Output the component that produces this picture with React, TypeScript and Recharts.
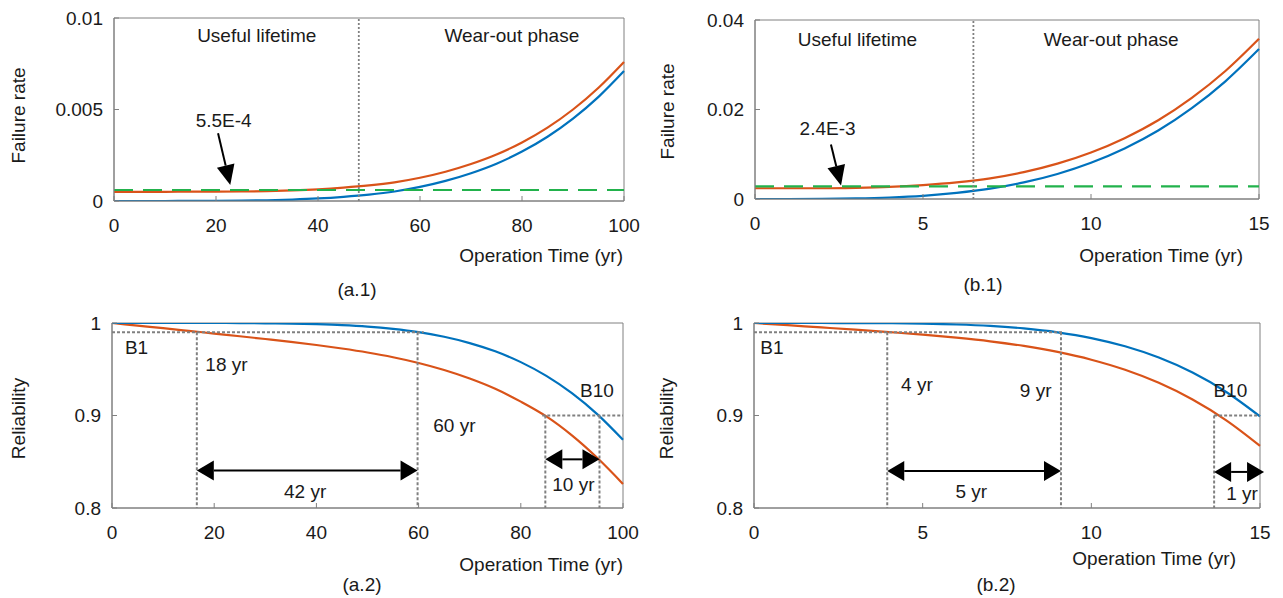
import { LineChart, Line, XAxis, YAxis, ReferenceLine, ReferenceDot, ReferenceArea } from 'recharts';

const FONT = '"Liberation Sans", Arial, Helvetica, sans-serif';
const INK = '#1a1a1a';
const FRAME = '#808080';
const BLUE = '#0072BD';
const ORANGE = '#D95319';
const GREEN = '#22B24C';
const FS = 19;

// case (a): 0-100 yr
const yearsA = [0, 5, 10, 15, 20, 25, 30, 35, 40, 45, 50, 55, 60, 65, 70, 75, 80, 85, 90, 95, 100];
const rateBlueA = [0, 0, 0, 0.00001, 0.00001, 0.00002, 0.00004, 0.00008, 0.00014, 0.00023, 0.00035, 0.00052, 0.00077, 0.0011, 0.00152, 0.00204, 0.0027, 0.00351, 0.0045, 0.00569, 0.0071];
const rateOrangeA = [0.0005, 0.0005, 0.0005, 0.00051, 0.00051, 0.00052, 0.00054, 0.00058, 0.00064, 0.00073, 0.00085, 0.00102, 0.00127, 0.0016, 0.00202, 0.00254, 0.0032, 0.00401, 0.005, 0.00619, 0.0076];
const relBlueA = [1, 1, 1, 1, 1, 0.9999, 0.9997, 0.9994, 0.9987, 0.9977, 0.9961, 0.9936, 0.9901, 0.9851, 0.9783, 0.9694, 0.9577, 0.9428, 0.9241, 0.9012, 0.8737];
const relOrangeA = [1, 0.9972, 0.9944, 0.9915, 0.9886, 0.9857, 0.9827, 0.9796, 0.9762, 0.9724, 0.9681, 0.963, 0.9568, 0.9492, 0.94, 0.9289, 0.915, 0.899, 0.8785, 0.854, 0.826];
const constRateA = 0.0006;
const phaseSplitA = 48;
const b1LifeA = [16.6, 59.8];
const b10LifeA = [84.8, 95.4];

// case (b): 0-15 yr
const yearsB = [0, 1, 2, 3, 4, 5, 6, 7, 8, 9, 10, 11, 12, 13, 14, 15];
const rateBlueB = [0, 0, 0.00003, 0.00012, 0.00033, 0.00071, 0.00136, 0.0023, 0.0037, 0.0056, 0.0081, 0.0113, 0.0153, 0.0203, 0.0263, 0.0335];
const rateOrangeB = [0.0024, 0.0024, 0.0024, 0.0025, 0.0027, 0.0031, 0.0037, 0.0046, 0.006, 0.0079, 0.0104, 0.0136, 0.0176, 0.0226, 0.0286, 0.0358];
const relBlueB = [1, 1, 1, 0.9999, 0.9998, 0.9993, 0.9984, 0.9968, 0.9941, 0.9899, 0.9837, 0.9748, 0.9626, 0.9464, 0.9254, 0.899];
const relOrangeB = [1, 0.9976, 0.9952, 0.9928, 0.9902, 0.9874, 0.9841, 0.9802, 0.9752, 0.9687, 0.9603, 0.9494, 0.9353, 0.9173, 0.8948, 0.8672];
const constRateB = 0.0028;
const phaseSplitB = 6.5;
const b1LifeB = [3.95, 9.1];
const b10LifeB = [13.64, 15];

const B1 = 0.99;
const B10 = 0.9;

const rateA = yearsA.map((t, i) => ({ t, blue: rateBlueA[i], orange: rateOrangeA[i] }));
const relA = yearsA.map((t, i) => ({ t, blue: relBlueA[i], orange: relOrangeA[i] }));
const rateB = yearsB.map((t, i) => ({ t, blue: rateBlueB[i], orange: rateOrangeB[i] }));
const relB = yearsB.map((t, i) => ({ t, blue: relBlueB[i], orange: relOrangeB[i] }));

// arrow drawn between the segment end points, head(s) in pixels
function arrow(both: boolean) {
  return (p: any) => {
    const { x1, y1, x2, y2 } = p;
    const len = Math.hypot(x2 - x1, y2 - y1) || 1;
    const ux = (x2 - x1) / len;
    const uy = (y2 - y1) / len;
    const hl = both ? 17 : 20;
    const hw = both ? 10 : 9;
    const head = (tx: number, ty: number, dx: number, dy: number) => {
      const bx = tx - dx * hl;
      const by = ty - dy * hl;
      return `${tx},${ty} ${bx - dy * hw},${by + dx * hw} ${bx + dy * hw},${by - dx * hw}`;
    };
    const sx = both ? x1 + ux * hl : x1;
    const sy = both ? y1 + uy * hl : y1;
    return (
      <g>
        <line x1={sx} y1={sy} x2={x2 - ux * hl} y2={y2 - uy * hl} stroke="#000" strokeWidth={2} />
        <polygon points={head(x2, y2, ux, uy)} fill="#000" />
        {both && <polygon points={head(x1, y1, -ux, -uy)} fill="#000" />}
      </g>
    );
  };
}

const guide = (key: string, x1: number, y1: number, x2: number, y2: number) => (
  <ReferenceLine key={key} segment={[{ x: x1, y: y1 }, { x: x2, y: y2 }]} stroke={FRAME}
    strokeDasharray="3 2" strokeWidth={2} ifOverflow="visible" />
);

const note = (key: string, x: number, y: number, text: string) => (
  <ReferenceDot key={key} x={x} y={y} r={0} fill="none" stroke="none" ifOverflow="visible"
    label={{ value: text, position: 'center', fontSize: FS, fill: INK }} />
);

const pointer = (key: string, x1: number, y1: number, x2: number, y2: number, both: boolean) => (
  <ReferenceLine key={key} segment={[{ x: x1, y: y1 }, { x: x2, y: y2 }]} ifOverflow="visible" shape={arrow(both)} />
);

const relTick = (p: any) => (
  <text x={p.x} y={p.y} dy={p.payload.value === 0.99 ? 16 : 0} textAnchor="end" dominantBaseline="central"
    fontSize={FS} fill={INK}>
    {p.payload.value}
  </text>
);

interface PanelProps {
  left: number; top: number; width: number; height: number;
  plot: [number, number, number, number]; // l, t, r, b
  data: Record<string, number>[];
  xDomain: [number, number]; xTicks: number[];
  yDomain: [number, number]; yTicks: number[];
  yTick?: any;
  yTitle: string; yGap: number; yShift: number;
  xTitleDx: number; xTitleDy: number;
  caption: string; capDx: number; capDy: number;
  children?: any;
}

function Panel(p: PanelProps) {
  const [l, t, r, b] = p.plot;
  return (
    <div style={{ position: 'absolute', left: p.left, top: p.top }}>
      <LineChart width={p.width} height={p.height} data={p.data}
        margin={{ top: t, right: p.width - r, left: 0, bottom: 0 }}>
        <XAxis type="number" dataKey="t" domain={p.xDomain} ticks={p.xTicks} height={p.height - b}
          tickSize={-5} tickMargin={23} axisLine={{ stroke: FRAME }} tickLine={{ stroke: FRAME }}
          tick={{ fontSize: FS, fill: INK }}
          label={{
            content: (lp: any) => {
              const vb = lp.viewBox;
              return (
                <g fontSize={FS} fill={INK}>
                  <text x={vb.x + vb.width + p.xTitleDx} y={vb.y + p.xTitleDy} textAnchor="end">Operation Time (yr)</text>
                  <text x={vb.x + p.capDx} y={vb.y + p.capDy} textAnchor="middle">{p.caption}</text>
                </g>
              );
            },
          }} />
        <XAxis xAxisId="top" orientation="top" type="number" dataKey="t" domain={p.xDomain} ticks={p.xTicks}
          height={0} tick={false} tickSize={-5} axisLine={{ stroke: FRAME }} tickLine={{ stroke: FRAME }} />
        <YAxis type="number" domain={p.yDomain} ticks={p.yTicks} width={l} allowDataOverflow
          tickSize={-5} tickMargin={16} axisLine={{ stroke: FRAME }} tickLine={{ stroke: FRAME }}
          tick={p.yTick ?? { fontSize: FS, fill: INK }}
          label={{
            content: (lp: any) => {
              const vb = lp.viewBox;
              const cx = vb.x + vb.width - p.yGap;
              const cy = vb.y + vb.height / 2 + p.yShift;
              return (
                <text x={cx} y={cy} transform={`rotate(-90 ${cx} ${cy})`} textAnchor="middle"
                  dominantBaseline="central" fontSize={FS} fill={INK}>{p.yTitle}</text>
              );
            },
          }} />
        <YAxis yAxisId="right" orientation="right" type="number" domain={p.yDomain} ticks={p.yTicks}
          width={0} allowDataOverflow tick={false} tickSize={-5} axisLine={{ stroke: FRAME }} tickLine={{ stroke: FRAME }} />
        <ReferenceArea x1={p.xDomain[0]} x2={p.xDomain[1]} y1={p.yDomain[0]} y2={p.yDomain[1]}
          fill="none" fillOpacity={0} stroke={FRAME} strokeWidth={1} ifOverflow="visible" />
        {/* invisible series so the mirrored top/right axes get a scale and draw their inward ticks */}
        <Line xAxisId="top" yAxisId="right" dataKey="blue" stroke="none" dot={false} activeDot={false}
          legendType="none" isAnimationActive={false} />
        <Line type="monotone" dataKey="orange" stroke={ORANGE} strokeWidth={2.2} dot={false} isAnimationActive={false} />
        <Line type="monotone" dataKey="blue" stroke={BLUE} strokeWidth={2.2} dot={false} isAnimationActive={false} />
        {p.children}
      </LineChart>
    </div>
  );
}

export default function App() {
  return (
    <div style={{ position: 'absolute', left: 0, top: 0, width: 1283, height: 598, background: '#fff', fontFamily: FONT }}>
      <Panel left={0} top={0} width={640} height={300} plot={[114, 18, 624, 201]} data={rateA}
        xDomain={[0, 100]} xTicks={[0, 20, 40, 60, 80, 100]} yDomain={[0, 0.01]} yTicks={[0, 0.005, 0.01]}
        yTitle="Failure rate" yGap={96} yShift={6} xTitleDx={-1} xTitleDy={61}
        caption="(a.1)" capDx={243} capDy={95}>
        {[
          <ReferenceLine key="g" y={constRateA} stroke={GREEN} strokeWidth={2.2} strokeDasharray="19 10" />,
          <ReferenceLine key="s" x={phaseSplitA} stroke={FRAME} strokeWidth={1.8} strokeDasharray="2 2" />,
          note('u', 28, 0.00907, 'Useful lifetime'),
          note('w', 78, 0.00907, 'Wear-out phase'),
          note('v', 21.5, 0.0044, '5.5E-4'),
          pointer('p', 20.4, 0.0037, 22.8, 0.00087, false),
        ]}
      </Panel>
      <Panel left={640} top={0} width={643} height={300} plot={[115, 20, 619, 199]} data={rateB}
        xDomain={[0, 15]} xTicks={[0, 5, 10, 15]} yDomain={[0, 0.04]} yTicks={[0, 0.02, 0.04]}
        yTitle="Failure rate" yGap={88} yShift={2} xTitleDx={-16} xTitleDy={63}
        caption="(b.1)" capDx={228} capDy={92}>
        {[
          <ReferenceLine key="g" y={constRateB} stroke={GREEN} strokeWidth={2.2} strokeDasharray="19 10" />,
          <ReferenceLine key="s" x={phaseSplitB} stroke={FRAME} strokeWidth={1.8} strokeDasharray="2 2" />,
          note('u', 3.05, 0.0356, 'Useful lifetime'),
          note('w', 10.6, 0.0356, 'Wear-out phase'),
          note('v', 2.16, 0.0159, '2.4E-3'),
          pointer('p', 2.26, 0.0122, 2.56, 0.003, false),
        ]}
      </Panel>
      <Panel left={0} top={300} width={640} height={298} plot={[112, 23, 623, 208]} data={relA}
        xDomain={[0, 100]} xTicks={[0, 20, 40, 60, 80, 100]} yDomain={[0.8, 1]} yTicks={[0.8, 0.9, 0.99, 1]}
        yTick={relTick} yTitle="Reliability" yGap={94} yShift={3} xTitleDx={0} xTitleDy={63}
        caption="(a.2)" capDx={250} capDy={83}>
        {[
          guide('h1', 0, B1, 61, B1),
          guide('v1', b1LifeA[0], B1, b1LifeA[0], 0.8),
          guide('v2', b1LifeA[1], B1, b1LifeA[1], 0.8),
          guide('h2', b10LifeA[0] - 0.6, B10, 100, B10),
          guide('v3', b10LifeA[0], B10, b10LifeA[0], 0.8),
          guide('v4', b10LifeA[1], B10, b10LifeA[1], 0.8),
          pointer('a1', b1LifeA[0], 0.8406, b1LifeA[1], 0.8406, true),
          pointer('a2', b10LifeA[0], 0.8526, b10LifeA[1], 0.8526, true),
          note('n1', 4.8, 0.974, 'B1'),
          note('n2', 22.4, 0.9554, '18 yr'),
          note('n3', 67, 0.8896, '60 yr'),
          note('n4', 37.8, 0.8183, '42 yr'),
          note('n5', 94.9, 0.9274, 'B10'),
          note('n6', 90.3, 0.8259, '10 yr'),
        ]}
      </Panel>
      <Panel left={640} top={300} width={643} height={298} plot={[114, 23, 620, 208]} data={relB}
        xDomain={[0, 15]} xTicks={[0, 5, 10, 15]} yDomain={[0.8, 1]} yTicks={[0.8, 0.9, 0.99, 1]}
        yTick={relTick} yTitle="Reliability" yGap={88} yShift={3} xTitleDx={-24} xTitleDy={57}
        caption="(b.2)" capDx={242} capDy={83}>
        {[
          guide('h1', 0, B1, 9.15, B1),
          guide('v1', b1LifeB[0], B1, b1LifeB[0], 0.8),
          guide('v2', b1LifeB[1], B1, b1LifeB[1], 0.8),
          guide('h2', b10LifeB[0], B10, 15, B10),
          guide('v3', b10LifeB[0], B10, b10LifeB[0], 0.8),
          pointer('a1', b1LifeB[0], 0.84, b1LifeB[1], 0.84, true),
          pointer('a2', b10LifeB[0], 0.839, 15.12, 0.839, true),
          note('n1', 0.53, 0.974, 'B1'),
          note('n2', 4.83, 0.934, '4 yr'),
          note('n3', 8.35, 0.927, '9 yr'),
          note('n4', 6.44, 0.818, '5 yr'),
          note('n5', 14.12, 0.927, 'B10'),
          note('n6', 14.47, 0.8155, '1 yr'),
        ]}
      </Panel>
    </div>
  );
}
